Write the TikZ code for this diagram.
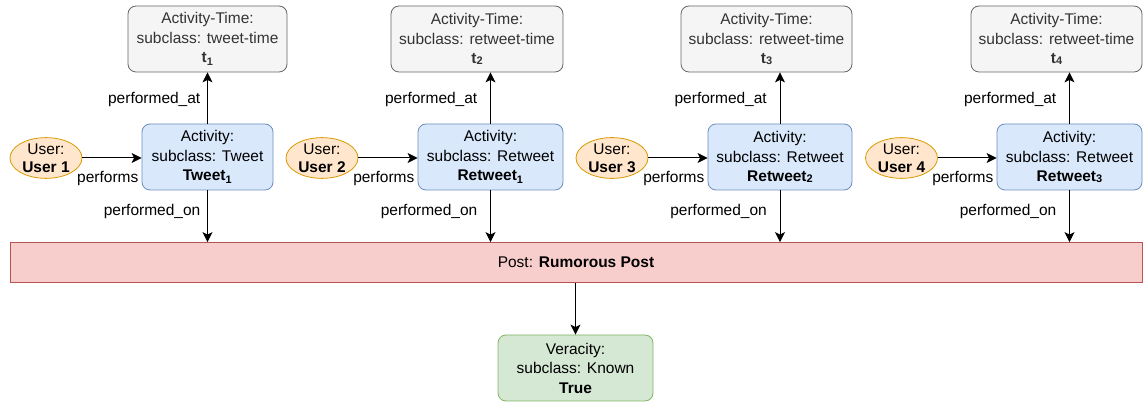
\documentclass[tikz,border=0pt]{standalone}
\usepackage{fontspec}
\setmainfont{Liberation Sans}
\usetikzlibrary{arrows.meta,calc,shapes.geometric}
\definecolor{usrfill}{HTML}{FFE6CC}\definecolor{usrdraw}{HTML}{D79B00}
\definecolor{actfill}{HTML}{DAE8FC}\definecolor{actdraw}{HTML}{6C8EBF}
\definecolor{timfill}{HTML}{F5F5F5}\definecolor{timdraw}{HTML}{666666}\definecolor{timtext}{HTML}{333333}
\definecolor{posfill}{HTML}{F8CECC}\definecolor{posdraw}{HTML}{B85450}
\definecolor{verfill}{HTML}{D5E8D4}\definecolor{verdraw}{HTML}{82B366}
\newcommand{\smalldig}[1]{{\fontsize{11}{11}\selectfont\raisebox{-0.8pt}{#1}}}
\newcommand{\subdig}[1]{\textsubscript{#1}}
\begin{document}
\begin{tikzpicture}[x=1pt,y=-1pt,
  font=\fontsize{15.5}{19.5}\selectfont,
  base/.style={draw, line width=0.8pt, align=center, inner sep=0pt},
  timebox/.style={base, rounded corners=8pt, fill=timfill, draw=timdraw, text=timtext, minimum height=66pt},
  actbox/.style={base, rounded corners=8pt, fill=actfill, draw=actdraw, minimum height=66pt},
  userell/.style={base, ellipse, fill=usrfill, draw=usrdraw, minimum width=72pt, minimum height=38pt, font=\fontsize{15.5}{18}\selectfont},
  postbox/.style={base, fill=posfill, draw=posdraw, minimum width=1132pt, minimum height=40pt},
  verbox/.style={base, rounded corners=8pt, fill=verfill, draw=verdraw, minimum width=155pt, minimum height=66pt},
  arr/.style={line width=1pt, -{Stealth[length=10pt,width=10pt,inset=2.5pt]}},
  lab/.style={inner sep=0pt, anchor=east}
]
\useasboundingbox (0,0) rectangle (1144,403);

% Activity-Time boxes
\node[timebox, minimum width=159pt] (T1) at (207.5,39) {Activity-Time:\\subclass: tweet-time\\\textbf{t\subdig{1}}};
\node[timebox, minimum width=172pt] (T2) at (477,39) {Activity-Time:\\subclass: retweet-time\\\textbf{t\smalldig{2}}};
\node[timebox, minimum width=171pt] (T3) at (766.5,39) {Activity-Time:\\subclass: retweet-time\\\textbf{t\smalldig{3}}};
\node[timebox, minimum width=171pt] (T4) at (1056.5,39) {Activity-Time:\\subclass: retweet-time\\\textbf{t\smalldig{4}}};

% Activity boxes
\node[actbox, minimum width=131pt] (A1) at (207.5,157) {Activity:\\subclass: Tweet\\\textbf{Tweet\subdig{1}}};
\node[actbox, minimum width=145pt] (A2) at (490.5,157) {Activity:\\subclass: Retweet\\\textbf{Retweet\subdig{1}}};
\node[actbox, minimum width=144pt] (A3) at (780,157) {Activity:\\subclass: Retweet\\\textbf{Retweet\smalldig{2}}};
\node[actbox, minimum width=145pt] (A4) at (1069.5,157) {Activity:\\subclass: Retweet\\\textbf{Retweet\smalldig{3}}};

% Users
\node[userell] (U1) at (46,158) {User:\\\textbf{User 1}};
\node[userell] (U2) at (322,158) {User:\\\textbf{User 2}};
\node[userell] (U3) at (612,158) {User:\\\textbf{User 3}};
\node[userell] (U4) at (901.5,158) {User:\\\textbf{User 4}};

% Post and Veracity
\node[postbox] (P) at (576,262.5) {Post: \textbf{Rumorous Post}};
\node[verbox] (V) at (575.5,368) {Veracity:\\subclass: Known\\\textbf{True}};

% Connectors
\foreach \i/\g in {1/7,2/13,3/13,4/13}{
  \draw[arr] (A\i.north) -- (A\i.north |- T\i.south);
  \draw[arr] (A\i.south) -- (A\i.south |- P.north);
  \draw[arr] (U\i.east) -- (U\i.east -| A\i.west);
  \node[lab] (LA\i) at ($(A\i.north)+(-\g,-24)$) {performed\_at};
  \node[lab] (LO\i) at ($(A\i.south)+(-\g,21)$) {performed\_on};
  \node[lab] (LP\i) at ($(A\i.west)+(-3,21.5)$) {performs};
}
\draw[arr] (P.south -| V.north) -- (V.north);
\end{tikzpicture}
\end{document}
